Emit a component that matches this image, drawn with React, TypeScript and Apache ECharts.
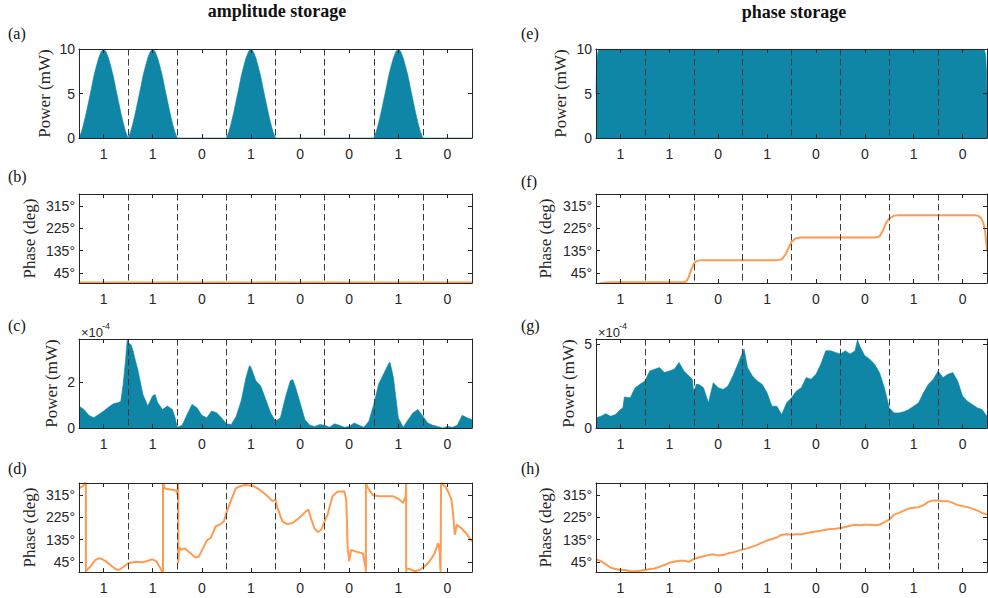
import React, { useEffect, useRef } from "react";
import * as echarts from "echarts";

// ---------------- data ----------------
const BITS = ["1", "1", "0", "1", "0", "0", "1", "0"];
// pulse profile for (a): value at |offset from bit centre| = 0, 0.05, ..., 0.5 bit
const A_PULSE_PROFILE = [10, 9.7, 9.0, 8.0, 6.9, 5.5, 4.2, 2.9, 1.7, 0.7, 0];

const E_POWER: number[][] = [
  [0, 5], [0.01, 7.5], [0.025, 9.2], [0.05, 9.9], [0.08, 10],
  [7.92, 10], [7.95, 9.9], [7.975, 9.2], [7.99, 7.5], [8, 5],
];

const B_PHASE: number[][] = [[0, 7], [8, 7]];

const F_PHASE: number[][] = [
  [0, -15], [0.05, 0], [0.1, 4], [0.2, 7], [0.4, 8], [1.8, 8], [1.85, 12], [1.9, 30],
  [1.95, 60], [2.0, 82], [2.05, 93], [2.15, 97], [3.7, 97], [3.8, 100], [3.88, 120],
  [3.95, 150], [4.0, 170], [4.08, 184], [4.2, 188], [5.7, 188], [5.8, 192], [5.87, 215],
  [5.93, 245], [6.0, 265], [6.1, 276], [6.2, 278], [7.75, 278], [7.82, 275], [7.87, 268],
  [7.92, 250], [7.96, 215], [8.0, 138],
];

const C_POWER: number[][] = [
  [0, 0.95], [0.1, 0.8], [0.2, 0.55], [0.3, 0.44], [0.4, 0.58], [0.5, 0.73], [0.6, 0.9],
  [0.7, 1.05], [0.8, 1.1], [0.85, 1.15], [0.9, 1.9], [0.95, 3.0], [0.98, 3.8], [1.02, 3.65],
  [1.06, 3.6], [1.1, 3.35], [1.15, 2.9], [1.2, 2.5], [1.3, 1.46], [1.4, 0.95], [1.5, 1.39],
  [1.55, 1.45], [1.6, 1.1], [1.7, 0.8], [1.8, 0.95], [1.9, 0.8], [1.95, 0.5], [2.0, 0.03],
  [2.1, 0.12], [2.2, 0.58], [2.3, 1.02], [2.4, 0.88], [2.5, 0.55], [2.6, 0.44], [2.7, 0.73],
  [2.8, 0.66], [2.9, 0.44], [3.0, 0.18], [3.1, 0.15], [3.2, 0.51], [3.3, 1.17], [3.4, 2.19],
  [3.47, 2.7], [3.5, 2.63], [3.6, 2.04], [3.7, 1.82], [3.8, 1.24], [3.9, 0.66], [4.0, 0.29],
  [4.1, 0.44], [4.2, 1.31], [4.3, 2.04], [4.35, 2.1], [4.4, 1.82], [4.5, 1.1], [4.6, 0.36],
  [4.7, 0.12], [4.8, 0.07], [4.9, 0.15], [5.0, 0.12], [5.1, 0.03], [5.2, 0.18], [5.3, 0.12],
  [5.4, 0.03], [5.5, 0.07], [5.6, 0.22], [5.7, 0.12], [5.8, 0.03], [5.9, 0.29], [6.0, 1.02],
  [6.1, 1.9], [6.2, 2.34], [6.3, 2.77], [6.33, 2.85], [6.4, 2.19], [6.5, 0.44], [6.6, 0.03],
  [6.7, 0.36], [6.8, 0.66], [6.9, 0.8], [7.0, 0.51], [7.1, 0.22], [7.2, 0.12], [7.3, 0.07],
  [7.4, 0], [7.5, 0.07], [7.6, 0.03], [7.7, 0.12], [7.8, 0.55], [7.9, 0.44], [8.0, 0.36],
];

const G_POWER: number[][] = [
  [0, 0.6], [0.1, 0.7], [0.2, 0.85], [0.3, 0.7], [0.4, 0.8], [0.5, 1.1], [0.55, 1.2],
  [0.58, 1.85], [0.7, 1.8], [0.8, 2.4], [0.9, 2.6], [1.0, 2.8], [1.1, 3.4], [1.2, 3.5],
  [1.3, 3.6], [1.4, 3.3], [1.5, 3.4], [1.6, 3.5], [1.7, 3.9], [1.8, 3.4], [1.9, 3.1],
  [1.97, 2.9], [2.0, 2.1], [2.05, 2.6], [2.1, 2.6], [2.2, 2.4], [2.3, 1.5], [2.4, 2.7],
  [2.5, 2.4], [2.6, 2.3], [2.7, 2.5], [2.8, 3.1], [2.9, 3.8], [3.0, 4.5], [3.03, 4.7],
  [3.1, 3.6], [3.2, 3.1], [3.3, 2.8], [3.4, 2.6], [3.5, 2.1], [3.6, 1.3], [3.7, 1.3],
  [3.8, 0.8], [3.9, 1.5], [4.0, 1.8], [4.1, 2.2], [4.2, 2.4], [4.3, 3.0], [4.4, 2.9],
  [4.5, 3.2], [4.6, 3.8], [4.7, 4.6], [4.8, 4.6], [4.9, 4.5], [5.0, 4.4], [5.1, 4.6],
  [5.2, 4.4], [5.3, 4.6], [5.35, 5.25], [5.4, 4.85], [5.5, 4.3], [5.6, 4.1], [5.7, 3.8],
  [5.8, 3.3], [5.9, 2.4], [6.0, 1.2], [6.1, 0.9], [6.2, 0.9], [6.3, 0.97], [6.4, 1.1],
  [6.5, 1.3], [6.6, 1.5], [6.7, 2.1], [6.8, 2.6], [6.9, 2.9], [7.0, 3.4], [7.1, 3.0],
  [7.2, 3.2], [7.3, 3.3], [7.4, 2.8], [7.5, 1.9], [7.6, 1.6], [7.7, 1.4], [7.8, 1.2],
  [7.9, 1.1], [8.0, 0.7],
];

const D_PHASE: number[][] = [
  [0, 341], [0.09, 351], [0.11, 362], [0.14, 362], [0.14, 6], [0.16, 13], [0.23, 26],
  [0.33, 53], [0.4, 60], [0.47, 57], [0.54, 49], [0.64, 33], [0.74, 17], [0.81, 13],
  [0.91, 26], [1.0, 40], [1.15, 46], [1.29, 44], [1.39, 49], [1.49, 56], [1.57, 49],
  [1.66, 19], [1.69, 6], [1.71, 6], [1.71, 362], [1.75, 341], [1.86, 337], [1.98, 333],
  [2.0, 317], [2.02, 362], [2.02, 40], [2.04, 105], [2.08, 94], [2.15, 100], [2.27, 80],
  [2.37, 63], [2.44, 67], [2.54, 107], [2.61, 134], [2.68, 141], [2.78, 188], [2.88, 198],
  [2.95, 209], [3.0, 243], [3.09, 290], [3.19, 341], [3.29, 351], [3.39, 355], [3.53, 352],
  [3.67, 337], [3.8, 317], [3.94, 290], [4.0, 297], [4.04, 263], [4.14, 209], [4.24, 198],
  [4.35, 202], [4.48, 222], [4.62, 249], [4.67, 256], [4.72, 222], [4.79, 182], [4.86, 165],
  [4.93, 175], [5.0, 209], [5.06, 236], [5.16, 310], [5.26, 328], [5.4, 330], [5.44, 297],
  [5.47, 100], [5.5, 49], [5.54, 94], [5.64, 87], [5.78, 80], [5.83, 26], [5.84, 6],
  [5.84, 362], [5.88, 344], [5.98, 314], [6.12, 310], [6.39, 310], [6.52, 297], [6.6, 283],
  [6.65, 310], [6.66, 362], [6.66, 6], [6.67, 19], [6.73, 17], [6.83, 8], [6.93, 13],
  [7.03, 26], [7.13, 46], [7.24, 80], [7.31, 121], [7.34, 94], [7.36, 6], [7.37, 6],
  [7.37, 362], [7.41, 358], [7.48, 341], [7.51, 330], [7.58, 297], [7.61, 249], [7.65, 155],
  [7.69, 195], [7.78, 182], [7.88, 161], [8.0, 128],
];

const H_PHASE: number[][] = [
  [0, 57], [0.1, 49], [0.2, 36], [0.3, 22], [0.4, 17], [0.5, 13], [0.6, 13], [0.7, 8],
  [0.8, 8], [0.9, 10], [1.0, 13], [1.1, 17], [1.2, 19], [1.3, 26], [1.4, 33], [1.5, 42],
  [1.6, 46], [1.7, 50], [1.8, 50], [1.9, 46], [2.0, 57], [2.1, 63], [2.2, 68], [2.3, 73],
  [2.4, 76], [2.5, 71], [2.6, 73], [2.7, 80], [2.8, 84], [2.9, 90], [3.0, 96], [3.1, 100],
  [3.2, 107], [3.3, 114], [3.4, 123], [3.5, 132], [3.6, 138], [3.7, 144], [3.8, 155],
  [3.9, 157], [4.0, 155], [4.1, 157], [4.2, 157], [4.3, 161], [4.4, 165], [4.5, 168],
  [4.6, 171], [4.7, 175], [4.8, 178], [4.9, 179], [5.0, 182], [5.1, 186], [5.2, 191],
  [5.3, 195], [5.4, 193], [5.5, 195], [5.6, 195], [5.7, 193], [5.8, 195], [5.9, 206],
  [6.0, 216], [6.1, 236], [6.2, 243], [6.3, 252], [6.4, 260], [6.5, 263], [6.6, 266],
  [6.7, 274], [6.8, 287], [6.9, 293], [7.0, 293], [7.1, 290], [7.2, 290], [7.3, 283],
  [7.4, 274], [7.5, 270], [7.6, 266], [7.7, 260], [7.8, 252], [7.9, 243], [8.0, 236],
];

const PHASE_TICKS = [45, 135, 225, 315];

// ---------------- style / layout ----------------
const TEAL = "#0f86a6";
const ORANGE = "#fd9b52";
const INK = "#262626";
const SERIF = "'Liberation Serif', 'DejaVu Serif', serif";
const SANS = "'Liberation Sans', Arial, sans-serif";

const COL_LEFT = [79, 596];
const COL_WIDTH = [393, 391];
const ROW_TOP = [49, 194, 339, 483];
const PLOT_H = 89;

function buildPulseA(): number[][] {
  const out: number[][] = [];
  BITS.forEach((b, i) => {
    for (let k = -10; k <= 10; k++) {
      const x = i + 0.5 + k * 0.05;
      out.push([x, b === "1" ? A_PULSE_PROFILE[Math.abs(k)] : 0]);
    }
  });
  return out;
}

type Panel = {
  col: number;
  row: number;
  kind: "area" | "line";
  data: number[][];
  min: number;
  max: number;
  ticks: number[];
  name: string;
  nameGap: number;
  deg?: boolean;
};

const App: React.FC = () => {
  const ref = useRef<HTMLDivElement>(null);

  useEffect(() => {
    if (!ref.current) return;
    const chart = echarts.init(ref.current, undefined, { renderer: "svg" });

    const panels: Panel[] = [
      { col: 0, row: 0, kind: "area", data: buildPulseA(), min: 0, max: 10, ticks: [0, 5, 10], name: "Power (mW)", nameGap: 26 },
      { col: 0, row: 1, kind: "line", data: B_PHASE, min: 5, max: 363, ticks: PHASE_TICKS, name: "Phase (deg)", nameGap: 41, deg: true },
      { col: 0, row: 2, kind: "area", data: C_POWER, min: 0, max: 3.85, ticks: [0, 2], name: "Power (mW)", nameGap: 19 },
      { col: 0, row: 3, kind: "line", data: D_PHASE, min: 5, max: 363, ticks: PHASE_TICKS, name: "Phase (deg)", nameGap: 41, deg: true },
      { col: 1, row: 0, kind: "area", data: E_POWER, min: 0, max: 10, ticks: [0, 5, 10], name: "Power (mW)", nameGap: 27 },
      { col: 1, row: 1, kind: "line", data: F_PHASE, min: 5, max: 363, ticks: PHASE_TICKS, name: "Phase (deg)", nameGap: 42, deg: true },
      { col: 1, row: 2, kind: "area", data: G_POWER, min: 0, max: 5.3, ticks: [0, 5], name: "Power (mW)", nameGap: 19 },
      { col: 1, row: 3, kind: "line", data: H_PHASE, min: 5, max: 363, ticks: PHASE_TICKS, name: "Phase (deg)", nameGap: 42, deg: true },
    ];

    const grid: any[] = [];
    const xAxis: any[] = [];
    const yAxis: any[] = [];
    const series: any[] = [];

    panels.forEach((p, gi) => {
      grid.push({
        left: COL_LEFT[p.col],
        top: ROW_TOP[p.row],
        width: COL_WIDTH[p.col],
        height: PLOT_H,
        containLabel: false,
      });
      const dataX = xAxis.length;
      xAxis.push({
        type: "value",
        gridIndex: gi,
        min: 0,
        max: 8,
        interval: 1,
        position: "bottom",
        z: 5,
        axisLine: { show: false, onZero: false },
        axisTick: { show: false },
        axisLabel: { show: false },
        splitLine: {
          show: true,
          showMinLine: false,
          showMaxLine: false,
          lineStyle: { color: "#3a3a3a", width: 1, type: [6.5, 3.5] },
        },
      });
      xAxis.push({
        type: "category",
        gridIndex: gi,
        data: BITS,
        position: "bottom",
        boundaryGap: true,
        z: 6,
        axisLine: { show: true, onZero: false, lineStyle: { color: INK, width: 1 } },
        axisTick: { show: true, inside: true, alignWithLabel: true, length: 4, lineStyle: { color: INK } },
        axisLabel: { show: true, margin: 9, fontSize: 14, color: INK, fontFamily: SANS },
        splitLine: { show: false },
      });
      xAxis.push({
        type: "category",
        gridIndex: gi,
        data: BITS,
        position: "top",
        boundaryGap: true,
        z: 6,
        axisLine: { show: true, onZero: false, lineStyle: { color: INK, width: 1 } },
        axisTick: { show: true, inside: true, alignWithLabel: true, length: 4, lineStyle: { color: INK } },
        axisLabel: { show: false },
        splitLine: { show: false },
      });
      const dataY = yAxis.length;
      yAxis.push({
        type: "value",
        gridIndex: gi,
        min: p.min,
        max: p.max,
        position: "left",
        z: 6,
        name: p.name,
        nameLocation: "middle",
        nameGap: p.nameGap,
        nameTextStyle: { fontFamily: SERIF, fontSize: 17, color: INK },
        axisLine: { show: true, onZero: false, lineStyle: { color: INK, width: 1 } },
        axisTick: { show: true, inside: true, length: 4, customValues: p.ticks, lineStyle: { color: INK } },
        axisLabel: {
          show: true,
          margin: 4,
          fontSize: 14,
          color: INK,
          fontFamily: SANS,
          customValues: p.ticks,
          formatter: (v: number) => (p.deg ? `${v}°` : `${v}`),
        },
        splitLine: { show: false },
      });
      yAxis.push({
        type: "value",
        gridIndex: gi,
        min: p.min,
        max: p.max,
        position: "right",
        z: 6,
        axisLine: { show: true, onZero: false, lineStyle: { color: INK, width: 1 } },
        axisTick: { show: true, inside: true, length: 4, customValues: p.ticks, lineStyle: { color: INK } },
        axisLabel: { show: false },
        splitLine: { show: false },
      });

      if (p.kind === "area") {
        series.push({
          type: "line",
          xAxisIndex: dataX,
          yAxisIndex: dataY,
          data: p.data,
          symbol: "none",
          lineStyle: { width: 0.6, color: TEAL },
          areaStyle: { color: TEAL, opacity: 1, origin: "start" },
          z: 2,
        });
      } else {
        series.push({
          type: "line",
          xAxisIndex: dataX,
          yAxisIndex: dataY,
          data: p.data,
          symbol: "none",
          lineStyle: { width: 2, color: ORANGE },
          z: 2,
        });
      }
    });

    const panelLabels = [
      { t: "(a)", x: 8, y: 33 },
      { t: "(b)", x: 8, y: 176 },
      { t: "(c)", x: 8, y: 325 },
      { t: "(d)", x: 8, y: 468 },
      { t: "(e)", x: 521, y: 33 },
      { t: "(f)", x: 521, y: 181 },
      { t: "(g)", x: 521, y: 325 },
      { t: "(h)", x: 521, y: 468 },
    ];

    const graphic: any[] = [
      {
        type: "text",
        x: 277,
        y: 11,
        style: { text: "amplitude storage", font: `bold 18px ${SERIF}`, fill: "#111", textAlign: "center", textVerticalAlign: "middle" },
      },
      {
        type: "text",
        x: 794,
        y: 12,
        style: { text: "phase storage", font: `bold 18px ${SERIF}`, fill: "#111", textAlign: "center", textVerticalAlign: "middle" },
      },
      ...panelLabels.map((l) => ({
        type: "text",
        x: l.x,
        y: l.y,
        style: { text: l.t, font: `16px ${SERIF}`, fill: "#111", textAlign: "left", textVerticalAlign: "middle" },
      })),
      ...[81, 598].flatMap((x) => [
        {
          type: "text",
          x,
          y: 332,
          style: { text: "×10", font: `13px ${SANS}`, fill: INK, textAlign: "left", textVerticalAlign: "middle" },
        },
        {
          type: "text",
          x: x + 21,
          y: 326,
          style: { text: "-4", font: `9px ${SANS}`, fill: INK, textAlign: "left", textVerticalAlign: "middle" },
        },
      ]),
    ];

    chart.setOption({
      animation: false,
      backgroundColor: "#ffffff",
      textStyle: { fontFamily: SANS },
      grid,
      xAxis,
      yAxis,
      series,
      graphic,
    });

    return () => chart.dispose();
  }, []);

  return (
    <div
      ref={ref}
      style={{ position: "fixed", left: 0, top: 0, width: 988, height: 598, background: "#fff" }}
    />
  );
};

export default App;
